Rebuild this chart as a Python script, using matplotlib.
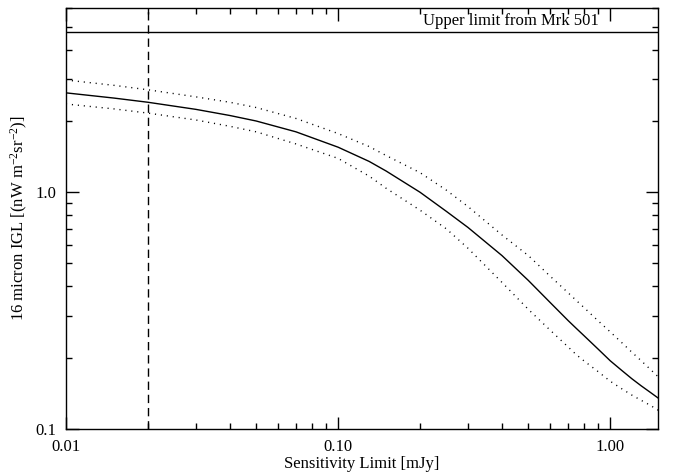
import numpy as np
import matplotlib
matplotlib.use("Agg")
import matplotlib.pyplot as plt

plt.rcParams['font.family'] = ['Liberation Serif', 'DejaVu Serif']
plt.rcParams['mathtext.fontset'] = 'custom'
plt.rcParams['mathtext.rm'] = 'Liberation Serif'
plt.rcParams['mathtext.default'] = 'regular'

# sensitivity limit [mJy]
sens = [0.01, 0.015, 0.02, 0.03, 0.04, 0.05, 0.07, 0.1, 0.13, 0.15, 0.2,
        0.25, 0.3, 0.4, 0.5, 0.6, 0.7, 0.75, 0.8, 0.9, 1.0, 1.1, 1.2, 1.3,
        1.4, 1.5]
# 16 micron IGL, best estimate and upper/lower bounds
igl_mid = [2.63, 2.50, 2.40, 2.24, 2.11, 2.00, 1.80, 1.55, 1.35, 1.23, 1.00,
           0.83, 0.71, 0.54, 0.424, 0.343, 0.287, 0.266, 0.248, 0.218, 0.194,
           0.177, 0.163, 0.152, 0.143, 0.135]
igl_hi = [2.98, 2.83, 2.71, 2.53, 2.40, 2.28, 2.05, 1.77, 1.56, 1.43, 1.21,
          1.02, 0.87, 0.66, 0.54, 0.443, 0.376, 0.349, 0.326, 0.287, 0.257,
          0.232, 0.211, 0.194, 0.179, 0.166]
igl_lo = [2.36, 2.25, 2.16, 2.02, 1.90, 1.80, 1.60, 1.39, 1.17, 1.04, 0.84,
          0.70, 0.58, 0.416, 0.32, 0.262, 0.222, 0.206, 0.194, 0.175, 0.159,
          0.148, 0.139, 0.132, 0.126, 0.12]

mrk501_limit = 4.75
sens_cut = 0.02

fig = plt.figure(figsize=(6.73, 4.75), dpi=100)
ax = fig.add_axes([0.098, 0.097, 0.88, 0.886])

ax.plot(sens, igl_mid, color='black', lw=1.0)
ax.plot(sens, igl_hi, color='black', lw=1.0, ls=(0, (0.8, 3.5)))
ax.plot(sens, igl_lo, color='black', lw=1.0, ls=(0, (0.8, 3.5)))
ax.axhline(mrk501_limit, color='black', lw=1.0)
ax.axvline(sens_cut, color='black', lw=1.0, ls=(0, (6, 3.5)))
ax.text(0.905, mrk501_limit * 1.03, 'Upper limit from Mrk 501',
        ha='right', va='bottom', fontsize=12)

ax.set_xscale('log')
ax.set_yscale('log')
ax.set_xlim(0.01, 1.5)
ax.set_ylim(0.1, 6.0)

ax.set_xticks([0.01, 0.1, 1.0])
ax.set_xticklabels(['0.01', '0.10', '1.00'])
ax.set_yticks([0.1, 1.0])
ax.set_yticklabels(['0.1', '1.0'])
ax.yaxis.set_minor_formatter(matplotlib.ticker.NullFormatter())
ax.xaxis.set_minor_formatter(matplotlib.ticker.NullFormatter())

ax.tick_params(which='both', direction='in', top=True, right=True,
               labelsize=12, width=1.0)
ax.tick_params(which='major', length=9, pad=7)
ax.tick_params(which='minor', length=4.5)
for s in ax.spines.values():
    s.set_linewidth(1.0)

ax.set_xlabel('Sensitivity Limit [mJy]', fontsize=12, labelpad=1)
ax.set_ylabel('16 micron IGL [(nW m$^{-2}$sr$^{-2}$)]', fontsize=12, labelpad=4)

fig.savefig('out.png', dpi=100)
